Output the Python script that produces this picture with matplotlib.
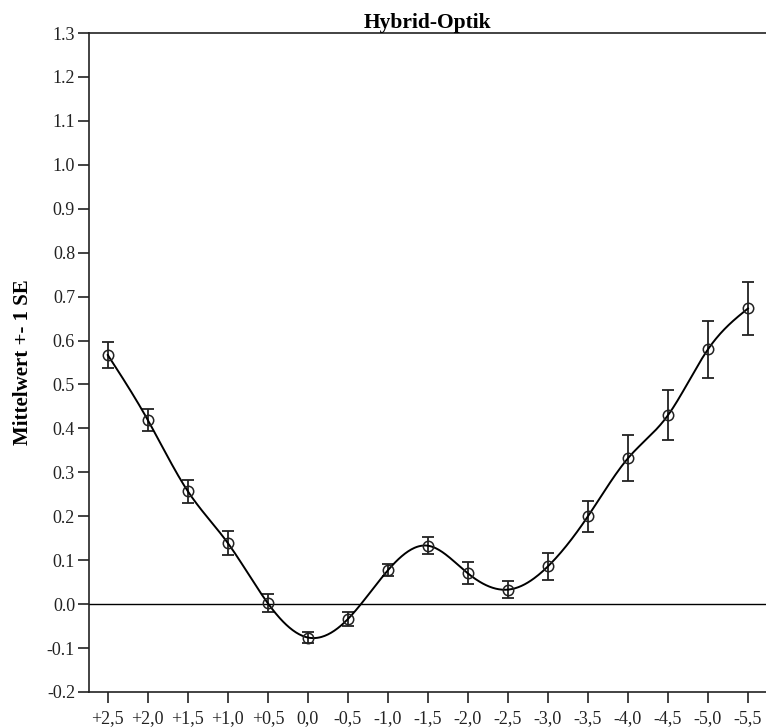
import numpy as np
import matplotlib
matplotlib.use("Agg")
import matplotlib.pyplot as plt

categories = ["+2,5", "+2,0", "+1,5", "+1,0", "+0,5", "0,0", "-0,5", "-1,0", "-1,5",
              "-2,0", "-2,5", "-3,0", "-3,5", "-4,0", "-4,5", "-5,0", "-5,5"]
means = [0.567, 0.419, 0.257, 0.139, 0.002, -0.076, -0.034, 0.077, 0.133,
         0.070, 0.033, 0.086, 0.200, 0.332, 0.430, 0.580, 0.673]
se = [0.030, 0.026, 0.026, 0.028, 0.020, 0.012, 0.016, 0.014, 0.020,
      0.025, 0.019, 0.031, 0.035, 0.052, 0.057, 0.065, 0.061]
yticks = [-0.2, -0.1, 0.0, 0.1, 0.2, 0.3, 0.4, 0.5, 0.6, 0.7, 0.8, 0.9, 1.0, 1.1, 1.2, 1.3]


def natural_spline(x, y, xs):
    x = np.asarray(x, float); y = np.asarray(y, float)
    n = len(x)
    h = np.diff(x)
    A = np.zeros((n, n)); b = np.zeros(n)
    A[0, 0] = 1; A[-1, -1] = 1
    for i in range(1, n - 1):
        A[i, i - 1] = h[i - 1]; A[i, i] = 2 * (h[i - 1] + h[i]); A[i, i + 1] = h[i]
        b[i] = 3 * ((y[i + 1] - y[i]) / h[i] - (y[i] - y[i - 1]) / h[i - 1])
    c = np.linalg.solve(A, b)
    out = np.empty_like(xs)
    for k, t in enumerate(xs):
        i = min(max(np.searchsorted(x, t) - 1, 0), n - 2)
        dx = t - x[i]
        bi = (y[i + 1] - y[i]) / h[i] - h[i] * (2 * c[i] + c[i + 1]) / 3
        di = (c[i + 1] - c[i]) / (3 * h[i])
        out[k] = y[i] + bi * dx + c[i] * dx ** 2 + di * dx ** 3
    return out


plt.rcParams['font.family'] = ['Liberation Serif', 'DejaVu Serif']

fig = plt.figure(figsize=(7.66, 7.28), dpi=100)
ax = fig.add_axes([89 / 766, 36 / 728, 1 - 89 / 766, 659 / 728])

xpos = np.arange(len(categories))
xs = np.linspace(0, len(categories) - 1, 600)
ax.plot(xs, natural_spline(xpos, means, xs), color='black', lw=1.4, zorder=3)
ax.errorbar(xpos, means, yerr=se, fmt='none', ecolor='#222222', elinewidth=1.3,
            capsize=4, capthick=1.3, zorder=2)
ax.plot(xpos, means, 'o', mfc='none', mec='#222222', ms=7.5, mew=1.1, zorder=4)
ax.axhline(0, color='black', lw=1.0, zorder=1)

ax.set_xlim(-0.47, 16.45)
ax.set_ylim(-0.2, 1.3)
ax.set_xticks(xpos)
ax.set_xticklabels(categories)
ax.set_yticks(yticks)
ax.set_yticklabels([f"{v:.1f}" for v in yticks])
ax.tick_params(axis='both', direction='out', length=8, width=1.2, labelsize=13,
               colors='#222222', pad=2)
ax.tick_params(axis='x', pad=5)
for s in ['left', 'bottom', 'top']:
    ax.spines[s].set_linewidth(1.2)
    ax.spines[s].set_color('#222222')
ax.spines['right'].set_visible(False)

ax.set_title("Hybrid-Optik", fontsize=15.5, fontweight='bold', pad=2)
ax.set_ylabel("Mittelwert +- 1 SE", fontsize=15, fontweight='bold', labelpad=10)

fig.savefig("out.png", dpi=100)
